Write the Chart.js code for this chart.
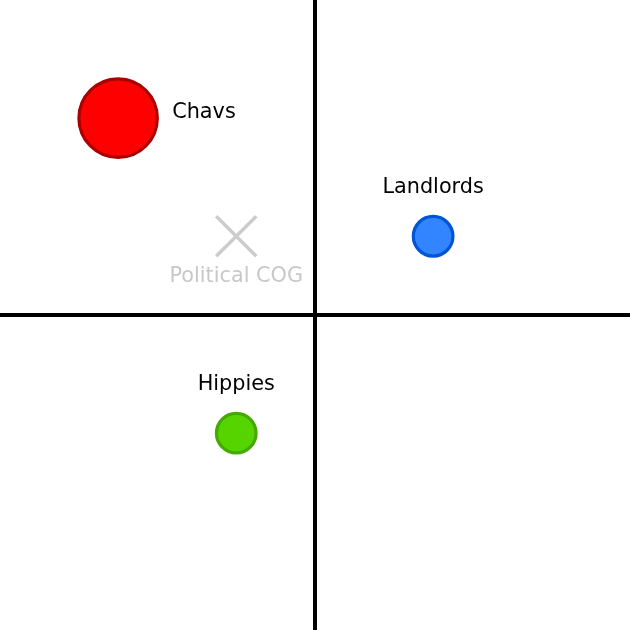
<!DOCTYPE html>
<html><head><meta charset="utf-8">
<script src="https://cdn.jsdelivr.net/npm/chart.js@4/dist/chart.umd.min.js"></script>
<style>html,body{margin:0;padding:0;background:#fff;}canvas{display:block;}</style>
</head><body>
<canvas id="c" width="630" height="630"></canvas>
<script>
const groups = ["Chavs", "Landlords", "Hippies"];
const xValues = [-2.5, 1.5, -1];
const yValues = [2.5, 1, -1.5];
const sizes = [2, 1, 1];
const cogLabel = "Political COG";
const cogX = [-1];
const cogY = [1];
const axisRange = [-4, 4];

const fills = ["#ff0000", "#3385ff", "#55d400"];
const borders = ["#aa0000", "#0055d4", "#44aa00"];
const labelPos = ["right", "above", "above"];

const labelPlugin = {
  id: 'quadLabels',
  beforeDatasetsDraw(chart) {
    const ctx = chart.ctx, xs = chart.scales.x, ys = chart.scales.y;
    const x0 = xs.getPixelForValue(0), y0 = ys.getPixelForValue(0);
    ctx.save();
    ctx.strokeStyle = '#000';
    ctx.lineWidth = 4;
    ctx.beginPath();
    ctx.moveTo(x0, 0); ctx.lineTo(x0, chart.height);
    ctx.moveTo(0, y0); ctx.lineTo(chart.width, y0);
    ctx.stroke();
    ctx.restore();
  },
  afterDatasetsDraw(chart) {
    const ctx = chart.ctx, xs = chart.scales.x, ys = chart.scales.y;
    ctx.save();
    ctx.font = '20.8px "DejaVu Sans"';
    ctx.textBaseline = 'alphabetic';
    groups.forEach((g, i) => {
      const px = xs.getPixelForValue(xValues[i]);
      const py = ys.getPixelForValue(yValues[i]);
      ctx.fillStyle = '#000';
      if (labelPos[i] === 'right') {
        ctx.textAlign = 'left';
        ctx.fillText(g, px + 54, py);
      } else {
        ctx.textAlign = 'center';
        ctx.fillText(g, px, py - 43);
      }
    });
    const cx = xs.getPixelForValue(cogX[0]);
    const cy = ys.getPixelForValue(cogY[0]);
    ctx.fillStyle = '#c8c8c8';
    ctx.textAlign = 'center';
    ctx.fillText(cogLabel, cx, cy + 46);
    ctx.restore();
  }
};

new Chart(document.getElementById('c'), {
  type: 'scatter',
  data: {
    datasets: [
      {
        data: groups.map((g, i) => ({x: xValues[i], y: yValues[i]})),
        backgroundColor: fills,
        borderColor: borders,
        borderWidth: 3.2,
        pointRadius: sizes.map(s => s === 2 ? 39.2 : 19.8),
        pointHoverRadius: sizes.map(s => s === 2 ? 39.2 : 19.8)
      },
      {
        data: cogX.map((x, i) => ({x: x, y: cogY[i]})),
        pointStyle: 'crossRot',
        borderColor: '#cccccc',
        borderWidth: 3.5,
        pointRadius: 28.3,
        pointHoverRadius: 28.3
      }
    ]
  },
  options: {
    responsive: false,
    animation: false,
    events: [],
    layout: {padding: 0, autoPadding: false},
    plugins: {legend: {display: false}, tooltip: {enabled: false}},
    scales: {
      x: {type: 'linear', min: axisRange[0], max: axisRange[1], display: false},
      y: {type: 'linear', min: axisRange[0], max: axisRange[1], display: false}
    }
  },
  plugins: [labelPlugin]
});
</script>
</body></html>
